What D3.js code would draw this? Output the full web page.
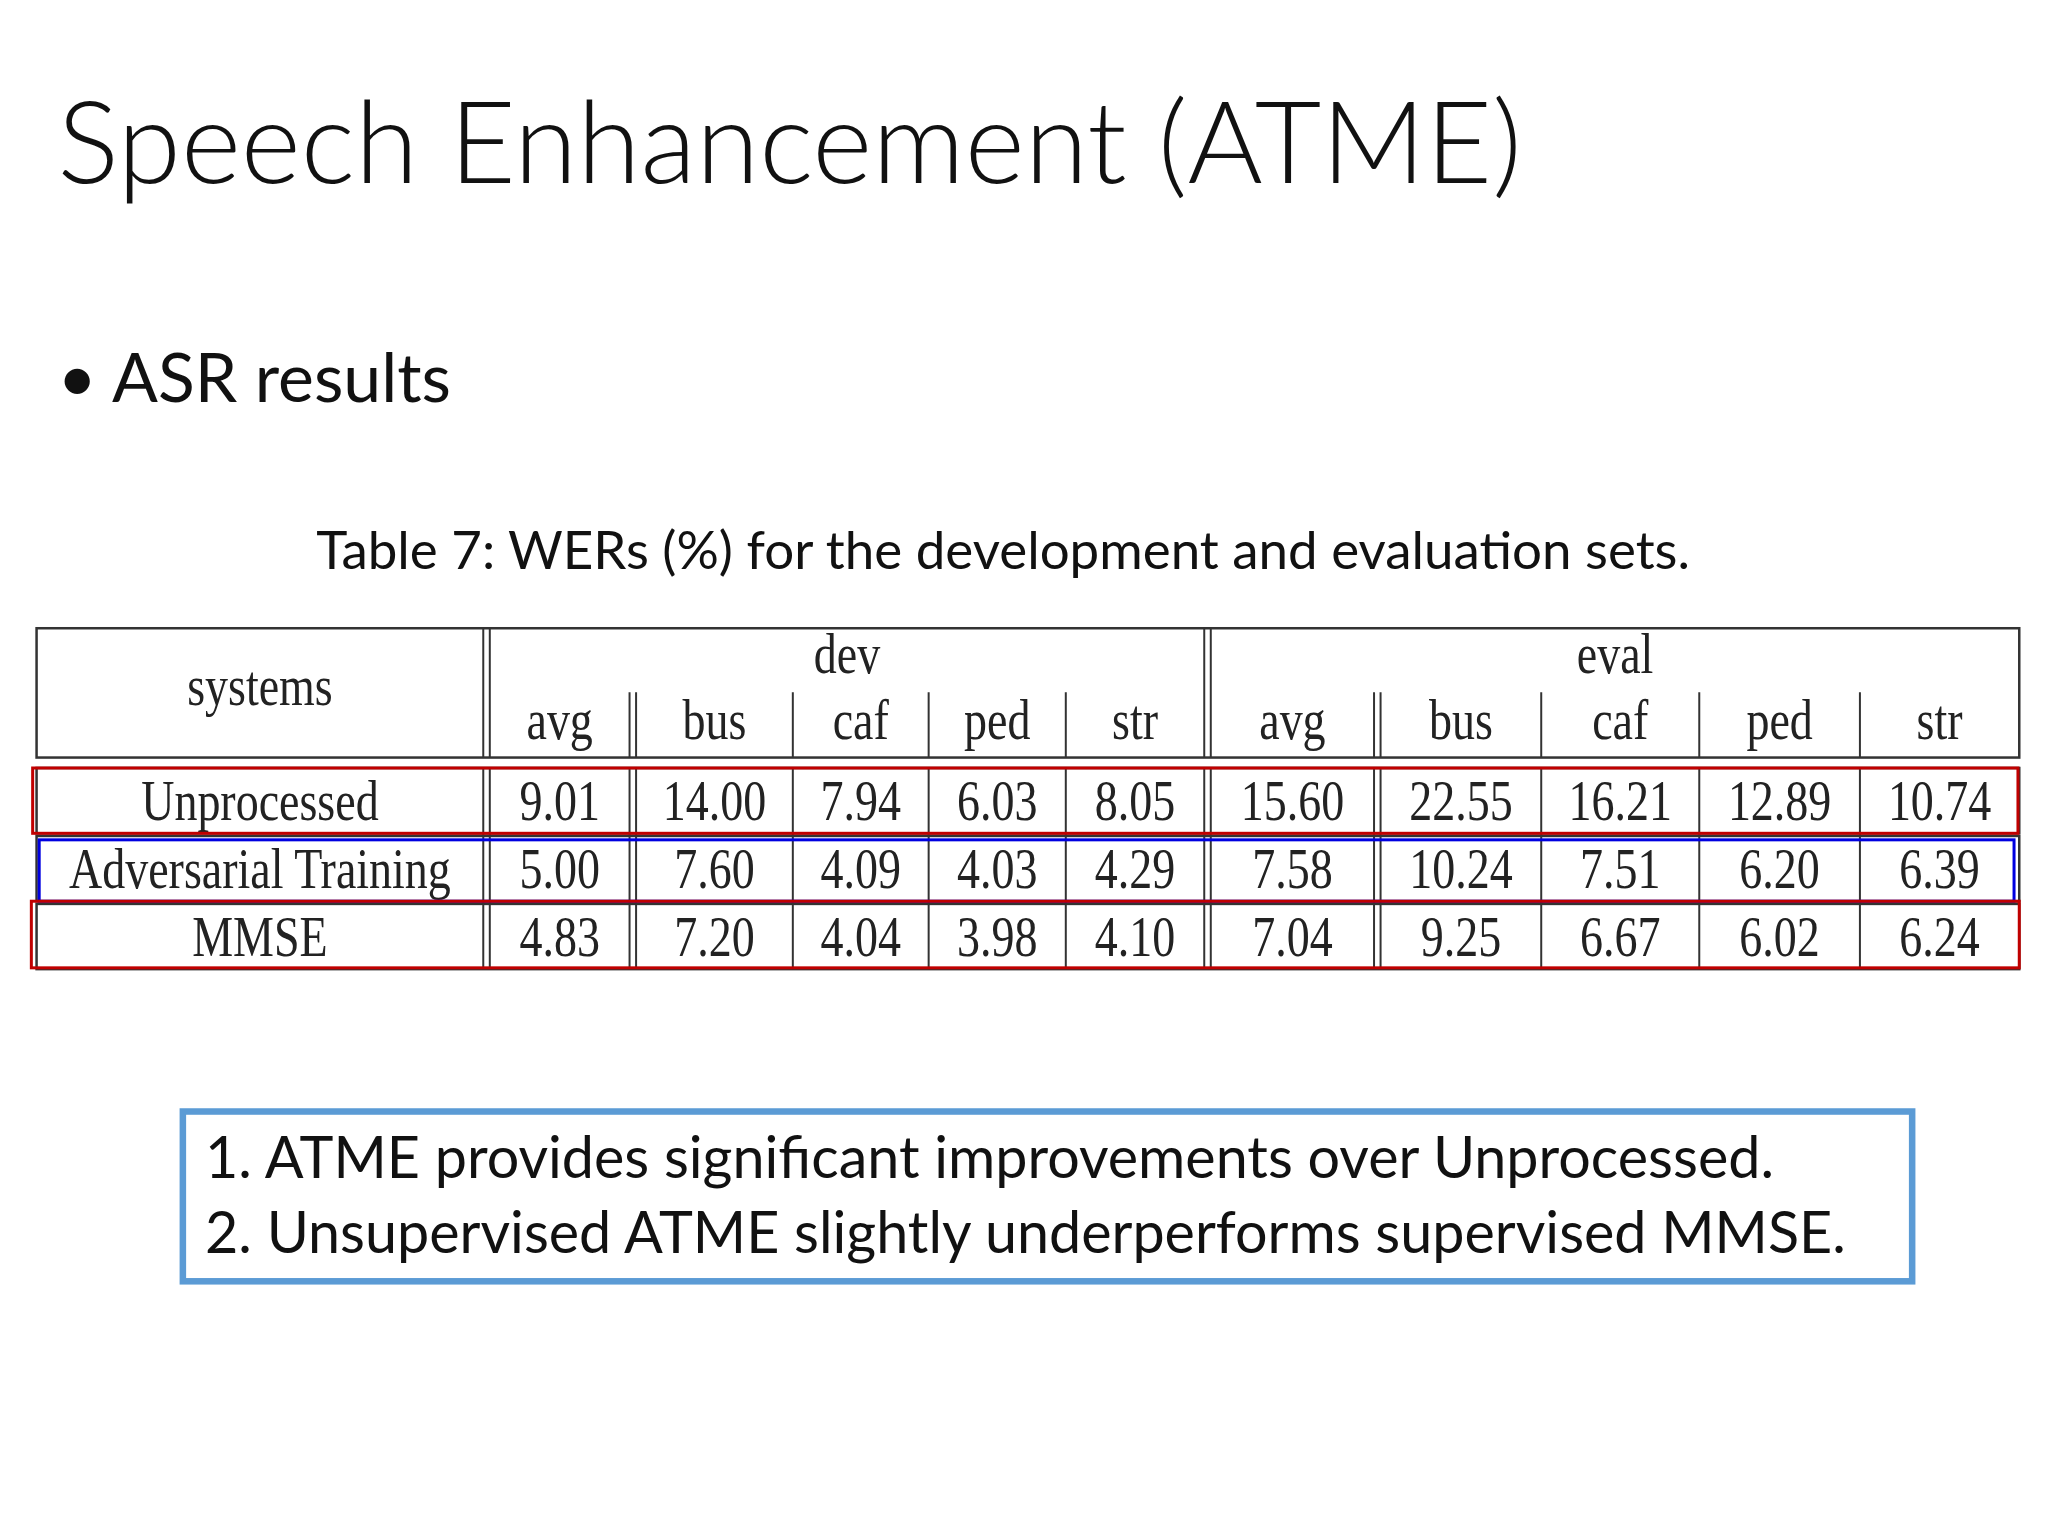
<!DOCTYPE html>
<html><head><meta charset="utf-8">
<script src="https://cdn.jsdelivr.net/npm/d3@7"></script>
<style>body{margin:0;background:#fff}</style></head>
<body><svg id="c" width="2048" height="1536"></svg>
<script>
const title = "Speech Enhancement (ATME)";
const bullet = "ASR results";
const caption = "Table 7: WERs (%) for the development and evaluation sets.";
const groups = ["dev","eval"];
const subCols = ["avg","bus","caf","ped","str"];
const systems = ["Unprocessed","Adversarial Training","MMSE"];
const devValues = [["9.01","14.00","7.94","6.03","8.05"],["5.00","7.60","4.09","4.03","4.29"],["4.83","7.20","4.04","3.98","4.10"]];
const evalValues = [["15.60","22.55","16.21","12.89","10.74"],["7.58","10.24","7.51","6.20","6.39"],["7.04","9.25","6.67","6.02","6.24"]];
const notes = ["1. ATME provides significant improvements over Unprocessed.","2. Unsupervised ATME slightly underperforms supervised MMSE."];
const highlight = ["#c00000","#0000e0","#c00000"];

const k = 2048/1568, S = v => v*k;
const svg = d3.select("#c");
const sans = "Lato, 'Open Sans', sans-serif", serif = "'Liberation Serif', 'DejaVu Serif', serif";
svg.append("text").attr("x",S(44)).attr("y",S(140)).attr("font-family",sans).attr("font-weight",300)
  .attr("font-size",S(88)).attr("fill","#111").text(title);
svg.append("text").attr("x",S(44)).attr("y",S(308)).attr("font-family",sans).attr("font-size",S(52)).attr("fill","#111").text("\u2022 "+bullet);
svg.append("text").attr("x",S(768)).attr("y",S(436)).attr("text-anchor","middle").attr("font-family",sans).attr("font-size",S(40.5)).attr("fill","#111").text(caption);

const edges = [28,370,482,607,711,816,922,1052,1180,1301,1424,1546];
const doubleAt = [370,482,922,1052];
const x = d3.scaleLinear().domain([0,1568]).range([0,2048]);
const rowY = d3.scaleBand().domain(systems).range([S(588),S(742)]).paddingInner(0.04);
const g = svg.append("g").attr("stroke","#333").attr("fill","none");
const line=(x1,y1,x2,y2,w=2)=>g.append("line").attr("x1",x1).attr("y1",y1).attr("x2",x2).attr("y2",y2).attr("stroke-width",w);
g.append("rect").attr("x",x(28)).attr("y",S(481)).attr("width",x(1546)-x(28)).attr("height",S(99)).attr("stroke-width",2.5);
systems.forEach(s=>g.append("rect").attr("x",x(28)).attr("y",rowY(s)).attr("width",x(1546)-x(28)).attr("height",rowY.bandwidth()).attr("stroke-width",2.5));
edges.slice(1,-1).forEach(e=>{
  const major = e===370||e===922;
  const top = major?S(481):S(530);
  [0, doubleAt.includes(e)?5:null].filter(v=>v!==null).forEach(o=>{
    line(x(e+o),top,x(e+o),S(580));
    line(x(e+o),S(588),x(e+o),S(742));
  });
});
const T = (xx,yy,t,fs=44)=>svg.append("text").attr("transform",`translate(${xx},${yy}) scale(0.8,1)`).attr("text-anchor","middle")
  .attr("font-family",serif).attr("font-size",S(fs)).attr("fill","#222").text(t);
T((x(28)+x(370))/2,S(540),"systems");
T((x(375)+x(922))/2,S(515),groups[0]);
T((x(927)+x(1546))/2,S(515),groups[1]);
const cellCenters = i => (x(edges[i+1]+(doubleAt.includes(edges[i+1])?5:0))+x(edges[i+2]))/2;
[...subCols,...subCols].forEach((c,i)=>T(cellCenters(i),S(566),c));
systems.forEach((s,r)=>{
  const cy = rowY(s)+rowY.bandwidth()/2+S(15);
  T((x(28)+x(370))/2,cy,s);
  [...devValues[r],...evalValues[r]].forEach((v,i)=>T(cellCenters(i),cy,v));
});
const hb = [[25,588,1545,638],[30,643,1542,690],[24,690,1546,741]];
hb.forEach((b,i)=>svg.append("rect").attr("x",x(b[0])).attr("y",S(b[1])).attr("width",x(b[2])-x(b[0])).attr("height",S(b[3]-b[1]))
  .attr("fill","none").attr("stroke",highlight[i]).attr("stroke-width",3));
svg.append("rect").attr("x",S(140)).attr("y",S(851)).attr("width",S(1324)).attr("height",S(130)).attr("fill","none").attr("stroke","#5b9bd5").attr("stroke-width",S(5));
notes.forEach((n,i)=>svg.append("text").attr("x",S(157)).attr("y",S(902+i*57)).attr("font-family",sans).attr("font-size",S(44)).attr("fill","#111").text(n));
</script></body></html>
